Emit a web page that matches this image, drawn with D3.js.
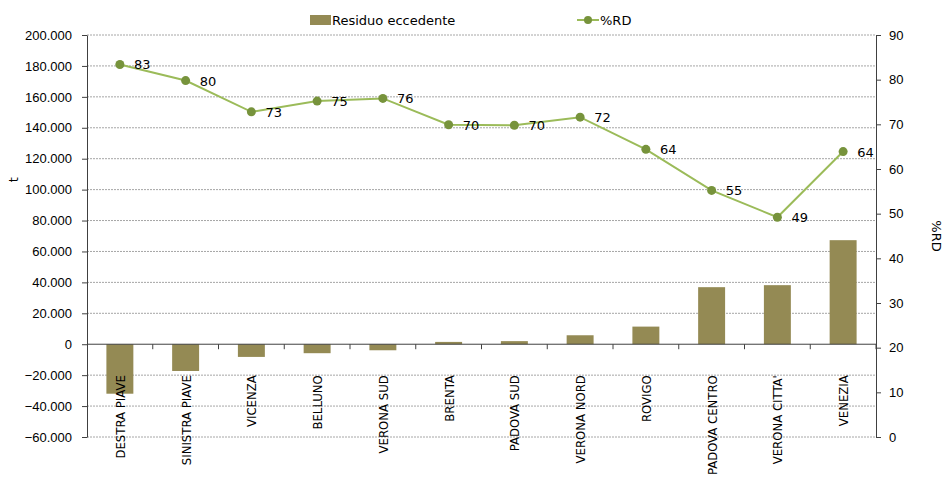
<!DOCTYPE html>
<html>
<head>
<meta charset="utf-8">
<script src="https://cdn.jsdelivr.net/npm/d3@7"></script>
<style>
  body { margin: 0; background: #fff; }
  svg { font-family: "DejaVu Sans", sans-serif; }
  .grid line { stroke: #a6a6a6; stroke-dasharray: 2,1; }
  .axis path, .axis line { stroke: #404040; }
  .axis text { fill: #000; font-size: 13px; }
  .cat { font-family: "DejaVu Sans Condensed", "DejaVu Sans", sans-serif; font-stretch: condensed; font-size: 13px; }
</style>
</head>
<body>
<div id="chart"></div>
<script>
// categories and series
const categories = ["DESTRA PIAVE", "SINISTRA PIAVE", "VICENZA", "BELLUNO", "VERONA SUD", "BRENTA",
                    "PADOVA SUD", "VERONA NORD", "ROVIGO", "PADOVA CENTRO", "VERONA CITTA'", "VENEZIA"];
const residuo = [-32000, -17300, -8200, -5800, -3900, 1500, 2000, 5800, 11400, 36900, 38200, 67300];
const pctRD = [83.4, 79.8, 72.8, 75.2, 75.8, 69.9, 69.8, 71.6, 64.4, 55.2, 49.2, 63.9];
const leftTicks = [-60000, -40000, -20000, 0, 20000, 40000, 60000, 80000, 100000, 120000, 140000, 160000, 180000, 200000];
const rightTicks = [0, 10, 20, 30, 40, 50, 60, 70, 80, 90];
const seriesNames = ["Residuo eccedente", "%RD"];

const width = 944, height = 481;
const margin = {top: 35, right: 68, bottom: 44, left: 87};
const barColor = "#948a54", lineColor = "#9bbb59", dotColor = "#77933c";

const it = d3.formatLocale({decimal: ",", thousands: ".", grouping: [3], currency: ["€", ""]});
const fmt = it.format(",");

const svg = d3.select("#chart").append("svg")
    .attr("width", width).attr("height", height);

const x = d3.scaleBand().domain(categories)
    .range([margin.left, width - margin.right]).paddingInner(0.59).paddingOuter(0.295);
const xEdge = d3.scaleLinear().domain([0, categories.length]).range([margin.left, width - margin.right]);
const yL = d3.scaleLinear().domain([-60000, 200000]).range([height - margin.bottom, margin.top]);
const yR = d3.scaleLinear().domain([0, 90]).range([height - margin.bottom, margin.top]);

// gridlines
svg.append("g").attr("class", "grid")
    .selectAll("line").data(leftTicks.filter(d => d !== 0)).enter().append("line")
    .attr("x1", margin.left).attr("x2", width - margin.right)
    .attr("y1", d => yL(d)).attr("y2", d => yL(d));

// bars
svg.append("g").selectAll("rect").data(residuo).enter().append("rect")
    .attr("x", (d, i) => x(categories[i]))
    .attr("width", x.bandwidth())
    .attr("y", d => yL(Math.max(0, d)))
    .attr("height", d => Math.abs(yL(d) - yL(0)))
    .attr("fill", barColor);

// zero line with category ticks
const zero = svg.append("g").attr("class", "axis");
zero.append("line").attr("x1", margin.left).attr("x2", width - margin.right)
    .attr("y1", yL(0)).attr("y2", yL(0)).attr("stroke", "#000");
zero.selectAll(".ct").data(d3.range(1, categories.length + 1)).enter().append("line")
    .attr("x1", d => xEdge(d)).attr("x2", d => xEdge(d))
    .attr("y1", yL(0)).attr("y2", yL(0) + 5);

// left axis
svg.append("g").attr("class", "axis")
    .attr("transform", `translate(${margin.left},0)`)
    .call(d3.axisLeft(yL).tickValues(leftTicks).tickFormat(fmt).tickSize(5).tickSizeOuter(0).tickPadding(10));

// right axis
svg.append("g").attr("class", "axis")
    .attr("transform", `translate(${width - margin.right},0)`)
    .call(d3.axisRight(yR).tickValues(rightTicks).tickSize(5).tickSizeOuter(0).tickPadding(8));

// category labels
svg.append("g").selectAll("text").data(categories).enter().append("text")
    .attr("class", "cat")
    .attr("transform", d => `translate(${x(d) + x.bandwidth() / 2 + 5},${yL(0) + 31}) rotate(-90)`)
    .attr("text-anchor", "end")
    .text(d => d);

// axis titles
svg.append("text").attr("transform", `translate(18,${yL(100000) - 10}) rotate(-90)`)
    .attr("text-anchor", "middle").style("font-size", "13px").text("t");
svg.append("text").attr("transform", `translate(932,${yR(45)}) rotate(90)`)
    .attr("text-anchor", "middle").style("font-size", "13px").text("%RD");

// line series
const cx = (d, i) => x(categories[i]) + x.bandwidth() / 2;
const line = d3.line().x(cx).y(d => yR(d));
svg.append("path").datum(pctRD)
    .attr("d", line).attr("fill", "none")
    .attr("stroke", lineColor).attr("stroke-width", 2);
svg.append("g").selectAll("circle").data(pctRD).enter().append("circle")
    .attr("cx", cx).attr("cy", d => yR(d)).attr("r", 4.5).attr("fill", dotColor);
svg.append("g").selectAll("text").data(pctRD).enter().append("text")
    .attr("x", (d, i) => cx(d, i) + 14).attr("y", d => yR(d) + 5)
    .style("font-size", "13px").text(d => Math.round(d));

// legend
const lg = svg.append("g");
lg.append("rect").attr("x", 310).attr("y", 15).attr("width", 21).attr("height", 10).attr("fill", barColor);
lg.append("text").attr("x", 332).attr("y", 25).style("font-size", "13px").text(seriesNames[0]);
lg.append("line").attr("x1", 577).attr("x2", 599).attr("y1", 20).attr("y2", 20)
    .attr("stroke", lineColor).attr("stroke-width", 2);
lg.append("circle").attr("cx", 588).attr("cy", 20).attr("r", 4).attr("fill", dotColor);
lg.append("text").attr("x", 600).attr("y", 25).style("font-size", "13px").text(seriesNames[1]);
</script>
</body>
</html>
